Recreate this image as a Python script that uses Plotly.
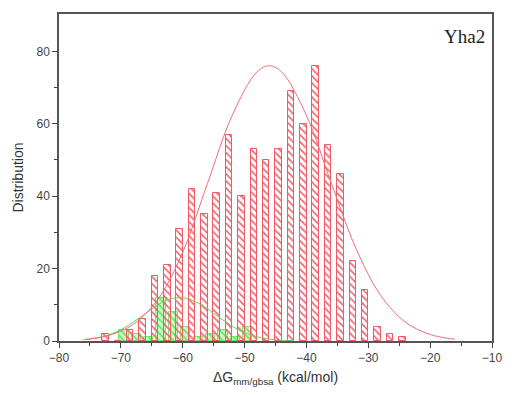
import plotly.graph_objects as go

# Red histogram (bin centres, counts)
red_x = [-72.5, -70.5, -68.5, -66.5, -64.5, -62.5, -60.5, -58.5, -56.5, -54.5, -52.5, -50.5,
         -48.5, -46.5, -44.5, -42.5, -40.5, -38.5, -36.5, -34.5, -32.5, -30.5, -28.5, -26.5, -24.5]
red_y = [2, 0, 3, 6, 18, 21, 31, 42, 35, 41, 57, 40,
         53, 50, 53, 69, 60, 76, 54, 46, 22, 14, 4, 2, 1]

# Green histogram
green_x = [-69.5, -67.5, -65.5, -63.5, -61.5, -59.5, -57.5, -55.5, -53.5, -51.5, -49.5]
green_y = [3, 2, 1, 12, 8, 4, 1, 2, 3, 1, 4]

# Fitted curves
red_fit_x = [-76, -72, -68, -64, -60, -56, -52, -48, -46, -44, -40, -36, -32, -28, -24, -20, -16]
red_fit_y = [0.4, 1.5, 4.6, 11.5, 24.5, 43.5, 62.3, 74.3, 76.0, 74.3, 62.3, 43.7, 25.6, 12.6, 5.2, 1.8, 0.5]
green_fit_x = [-76, -73, -70, -67, -64, -62, -60.5, -59, -57, -54, -51, -48, -45, -42]
green_fit_y = [0.34, 1.2, 3.1, 6.4, 10.0, 11.6, 12.0, 11.6, 10.0, 6.4, 3.1, 1.2, 0.34, 0.07]

fig = go.Figure()

fig.add_trace(go.Bar(
    x=green_x, y=green_y, width=1.5,
    marker=dict(color="rgba(190,255,190,1)",
                line=dict(color="rgba(110,235,110,1)", width=1),
                pattern=dict(shape="\\", fgcolor="rgba(100,235,100,1)",
                             bgcolor="rgba(205,255,205,1)", size=5, solidity=0.35,
                             fillmode="replace")),
    showlegend=False))

fig.add_trace(go.Bar(
    x=red_x, y=red_y, width=1.05,
    marker=dict(color="rgba(255,255,255,0)",
                line=dict(color="rgba(240,90,100,1)", width=1),
                pattern=dict(shape="\\", fgcolor="rgba(242,110,120,1)",
                             bgcolor="rgba(255,255,255,0)", size=5, solidity=0.35,
                             fillmode="replace")),
    showlegend=False))

fig.add_trace(go.Scatter(x=green_fit_x, y=green_fit_y, mode="lines", line_shape="spline",
                         line=dict(color="rgba(120,200,90,1)", width=1), showlegend=False))
fig.add_trace(go.Scatter(x=red_fit_x, y=red_fit_y, mode="lines", line_shape="spline",
                         line=dict(color="rgba(240,110,120,1)", width=1), showlegend=False))

axis_font = dict(family="Liberation Sans, Arial, sans-serif", size=12, color="#444")

fig.update_layout(
    width=515, height=396,
    margin=dict(l=59, r=13, t=12, b=55),
    paper_bgcolor="white", plot_bgcolor="white",
    barmode="overlay", bargap=0,
    xaxis=dict(range=[-80, -10], tickvals=[-80, -70, -60, -50, -40, -30, -20, -10],
               ticks="outside", ticklen=5, tickcolor="#444", showgrid=False, zeroline=False,
               showline=True, linecolor="#555", linewidth=1.5, mirror=True,
               minor=dict(tickvals=[-75, -65, -55, -45, -35, -25, -15], ticks="outside", ticklen=3, tickcolor="#444"),
               tickfont=axis_font,
               title=dict(text="ΔG<sub>mm/gbsa</sub> (kcal/mol)", font=dict(family="Liberation Sans, Arial, sans-serif", size=14, color="#333"), standoff=8)),
    yaxis=dict(range=[0, 90.3], tickvals=[0, 20, 40, 60, 80],
               ticks="outside", ticklen=5, tickcolor="#444", showgrid=False, zeroline=False,
               showline=True, linecolor="#555", linewidth=1.5, mirror=True,
               minor=dict(tickvals=[10, 30, 50, 70], ticks="outside", ticklen=3, tickcolor="#444"),
               tickfont=axis_font,
               title=dict(text="Distribution", font=dict(family="Liberation Sans, Arial, sans-serif", size=14, color="#333"), standoff=10)),
    annotations=[dict(text="Yha2", xref="paper", yref="paper", x=0.937, y=0.93,
                      xanchor="center", yanchor="middle", showarrow=False,
                      font=dict(family="Liberation Serif, Times New Roman, serif", size=19, color="#222"))],
)

fig.write_html("out.html")
